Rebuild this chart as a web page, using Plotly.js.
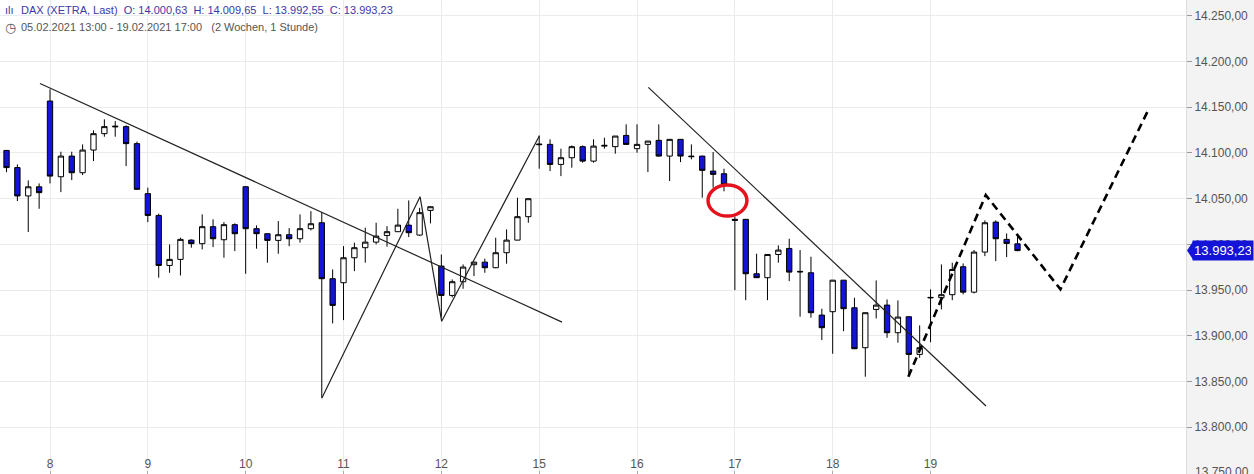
<!DOCTYPE html>
<html>
<head>
<meta charset="utf-8">
<script src="https://cdn.plot.ly/plotly-3.0.1.min.js"></script>
<style>
html,body{margin:0;padding:0;background:#fff;}
#chart{width:1254px;height:474px;}
</style>
</head>
<body>
<div id="chart"></div>
<script>
// hourly candle index (0 = Mo 08.02. 09:00; negative = Fr 05.02.)
const candleIndex = [-4,-3,-2,-1,0,1,2,3,4,5,6,7,8,9,10,11,12,13,14,15,16,17,18,19,20,21,22,23,24,25,26,27,28,29,30,31,32,33,34,35,36,37,38,39,40,41,42,43,44,45,46,47,48,49,50,51,52,53,54,55,56,57,58,59,60,61,62,63,64,65,66,67,68,69,70,71,72,73,74,75,76,77,78,79,80,81,82,83,84,85,86,87,88,89];
const openVals = [14102.8,14084,14053,14063,14156.8,14074,14096.6,14078.4,14103.2,14121.1,14128.5,14128.8,14110.2,14055.5,14031.7,13977,13983.6,14004.7,14000.8,14019.4,14005.1,14021.6,14063.1,14017.2,14011.7,14004.4,14010.6,14006.2,14017.2,14023.7,13962.5,13958.1,13985.4,13996.4,14002.5,14009.8,14013.9,14021.1,14010.2,14037.2,13976.3,13944.2,13959.2,13977.8,13980.6,13974.5,13990.9,14004.7,14030.3,14109,14109.4,14087.5,14094.8,14106.9,14091.1,14107.5,14106.9,14119.2,14104.7,14109.4,14113.8,14096.6,14114.9,14096.6,14096.6,14080.2,14077.3,14027.4,14027.4,13967.9,13963.6,13989,13995.6,13970.5,13969,13922.7,13926.4,13960.9,13930.7,13887,13928.9,13933.6,13903.4,13920.9,13879.7,13941.5,13941.7,13945,13975.6,13947.8,13991.6,14024.4,14005.5,14000.63];
const highVals = [14103,14087.5,14070,14066.7,14169.6,14101.4,14101.4,14109.4,14124.7,14136.8,14134.9,14130.2,14112.4,14062,14033.6,14000,14007.3,14005.5,14032.8,14027.4,14024.4,14023,14063.5,14020.8,14012,14025.5,14017.8,14032.8,14036.4,14035.3,13972.6,13998.1,14001.9,14018.3,14023.7,14020,14039,14048.1,14040,14041.5,13989,13961.7,13978.1,13980.8,13984.4,14007.3,14016.4,14051.1,14050.2,14119.2,14114.9,14104.7,14108.3,14108.3,14114.9,14116.7,14118.5,14131.3,14131.3,14113.2,14131.3,14115,14115,14109.4,14097,14101,14082.8,14030.3,14027.5,13989.8,13989,13998.9,14006.2,13993.8,13986.5,13929.7,13961,13961,13941.7,13925.5,13960.6,13939.8,13938.7,13921.5,13911.4,13950.8,13978.1,13980,13979.2,13993.8,14026.3,14026.3,14012,14009.65];
const lowVals = [14079,14047.4,14013.5,14039,14066.7,14057.2,14070.3,14075.8,14091.1,14117.8,14117.8,14085.7,14060,14024.4,13963.6,13969,13966,13996.4,13994.5,13997,13985.4,13992.7,13967.9,13995.3,13980,13989.8,13998,14001.9,14015.3,13832.3,13913.6,13917.2,13970.8,13980,14000,13997.5,14013.5,14008,14009.5,14023,13920,13942,13951.5,13965.3,13969,13974,13978.9,14004.5,14023.7,14082.8,14080.2,14074.7,14083.9,14089.4,14089.4,14104.7,14099.2,14109,14100.3,14079.1,14096,14069.3,14090,14093,14051.1,14062,14058,13950,13939,13963.5,13939,13980,13959.8,13920.9,13919.8,13895.3,13880.4,13905.1,13885.5,13855.3,13919,13897.9,13892.5,13858,13876,13893,13928.9,13939,13945.3,13946.4,13987.2,13981.7,13986.1,13992.55];
const closeVals = [14084,14053,14063,14056.6,14074.7,14096.6,14078.4,14103.2,14121.1,14128.8,14129.2,14110.2,14060.2,14031.7,13977,13983.6,14005.5,14000.8,14019.4,14006.2,14021.6,14011.7,14017.2,14011.7,14004.4,14010.6,14006.2,14017.2,14022.6,13962.5,13933.3,13985.4,13996.4,14002.5,14009.1,14013.9,14021.1,14012.8,14034.7,14041.2,13944.2,13959.2,13975.2,13980.6,13974.5,13990.9,14004.7,14030.3,14050,14109.6,14087.5,14094.8,14106.9,14091.1,14107.5,14108.3,14118.5,14109.4,14109.4,14113,14096.6,14114.9,14096.6,14096,14081,14076.6,14065.6,14026.4,13967.9,13963.6,13989,13993.8,13969.7,13970,13925.3,13908.9,13960.9,13929.7,13885.9,13925.3,13933.6,13903.4,13920.5,13879.7,13887,13942,13945,13972.6,13947.8,13991.6,14023.7,14006.2,14001.1,13993.23];

const dayLabels = ['8','9','10','11','12','15','16','17','18','19'];
const candlesPerDay = 9;

// drawn analysis lines: [candle index, price]
const trend1X = [-0.92, 47.1];        const trend1Y = [14176, 13915];
const trend2X = [55.04, 86.1];        const trend2Y = [14171.8, 13823.3];
const zigzagX = [25.0, 34.04, 36.03, 45.01];   const zigzagY = [13831.7, 14052.2, 13915.9, 14118.6];
const forecastX = [78.96, 86.08, 92.95, 101.0]; const forecastY = [13855.3, 14054, 13950.9, 14146.2];
const markX = 62.32, markY = 14048, markRX = 1.79, markRY = 17;

const NB = '\u00a0';
const header1 = 'DAX (XETRA, Last)'+NB+NB+'O: 14.000,63'+NB+NB+'H: 14.009,65'+NB+NB+'L: 13.992,55'+NB+NB+'C: 13.993,23';
const header2 = '05.02.2021 13:00 - 19.02.2021 17:00'+NB+NB+NB+'(2 Wochen, 1 Stunde)';
const lastPriceText = '13.993,23';
const bottomTickValue = 13750, bottomTickText = '13.750,00';

const tickVals = dayLabels.map((d,k)=>k*candlesPerDay);
const lastClose = closeVals[closeVals.length-1];
const BLUE = '#1414d8';

const traces = [
  {type:'candlestick', x:candleIndex, open:openVals, high:highVals, low:lowVals, close:closeVals,
   increasing:{line:{color:'#000',width:1}, fillcolor:'#ffffff'},
   decreasing:{line:{color:'#000',width:1}, fillcolor:BLUE},
   whiskerwidth:0, hoverinfo:'skip', showlegend:false},
  {type:'scatter', mode:'lines', x:trend1X, y:trend1Y, line:{color:'#222',width:1.2}, hoverinfo:'skip', showlegend:false},
  {type:'scatter', mode:'lines', x:trend2X, y:trend2Y, line:{color:'#222',width:1.2}, hoverinfo:'skip', showlegend:false},
  {type:'scatter', mode:'lines', x:zigzagX, y:zigzagY, line:{color:'#222',width:1.2}, hoverinfo:'skip', showlegend:false},
  {type:'scatter', mode:'lines', x:forecastX, y:forecastY, line:{color:'#000',width:2.6,dash:'8px,5px'}, hoverinfo:'skip', showlegend:false}
];

const layout = {
  width:1254, height:474,
  margin:{l:0, r:68, t:0, b:0},
  paper_bgcolor:'#f3f3f3', plot_bgcolor:'#ffffff',
  separators:',.',
  showlegend:false,
  font:{family:'"Liberation Sans", Arial, sans-serif', size:12, color:'#555'},
  xaxis:{range:[-4.6,104.5], tickvals:tickVals, ticktext:dayLabels, showgrid:true, gridcolor:'#ebebeb', gridwidth:1,
         ticks:'inside', ticklen:3, tickcolor:'#aaa', ticklabelposition:'inside', zeroline:false,
         rangeslider:{visible:false}, tickfont:{size:12, color:'#555'}, fixedrange:true},
  yaxis:{side:'right', range:[13748.9, 14267.3], dtick:50, tick0:13750, tickformat:',.2f', showgrid:true, gridcolor:'#ebebeb',
         ticks:'outside', ticklen:5, tickcolor:'#999', zeroline:false, showline:true, linecolor:'#dcdcdc', linewidth:1,
         ticklabeloverflow:'allow', tickfont:{size:12, color:'#555'}, fixedrange:true},
  shapes:[
    {type:'circle', xref:'x', yref:'y', x0:markX-markRX, x1:markX+markRX, y0:markY-markRY, y1:markY+markRY,
     line:{color:'#e3121c', width:3.5}}
  ],
  annotations:[
    {xref:'paper', yref:'paper', x:0.0, y:1, xanchor:'left', yanchor:'top', xshift:3, yshift:-2, showarrow:false,
     text:'ılı', font:{size:11, color:'#3a3aa8'}},
    {xref:'paper', yref:'paper', x:0.0, y:1, xanchor:'left', yanchor:'top', xshift:19, yshift:-2, showarrow:false,
     text:header1, font:{size:11, color:'#3a3aa8'}},
    {xref:'paper', yref:'paper', x:0.0, y:1, xanchor:'left', yanchor:'top', xshift:3, yshift:-18, showarrow:false,
     text:'◷', font:{size:13, color:'#555', family:'DejaVu Sans'}},
    {xref:'paper', yref:'paper', x:0.0, y:1, xanchor:'left', yanchor:'top', xshift:19, yshift:-19, showarrow:false,
     text:header2, font:{size:11, color:'#555'}},
    {xref:'paper', yref:'y', x:1, y:bottomTickValue, xanchor:'left', yanchor:'middle', xshift:7, yshift:1, showarrow:false,
     text:bottomTickText, font:{size:12, color:'#555'}},
    {xref:'paper', yref:'y', x:1, y:lastClose, xanchor:'left', yanchor:'middle', xshift:6, showarrow:false,
     text:lastPriceText, bgcolor:BLUE, borderpad:2, font:{size:13, color:'#fff'}, width:56, height:15}
  ]
};

Plotly.newPlot('chart', traces, layout, {staticPlot:true}).then(function(gd){
  // left-pointing arrow tip of the last-price tag
  const ya = gd._fullLayout.yaxis, xa = gd._fullLayout.xaxis;
  const dy = 9 / (ya._length) * (ya.range[1]-ya.range[0]);
  const plotW = xa._length;
  const xTip = 1 + 1/plotW, xBase = 1 + 7/plotW;
  const path = 'M '+xTip+' '+lastClose+' L '+xBase+' '+(lastClose+dy)+' L '+xBase+' '+(lastClose-dy)+' Z';
  const shapes = gd.layout.shapes.concat([{type:'path', xref:'paper', yref:'y', layer:'above', path:path, fillcolor:BLUE, line:{width:0}}]);
  Plotly.relayout(gd, {shapes:shapes});
});
</script>
</body>
</html>
